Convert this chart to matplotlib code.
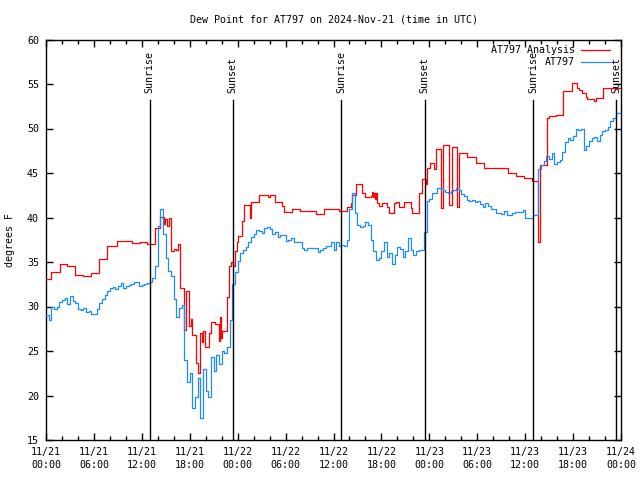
import numpy as np
import matplotlib
matplotlib.use('Agg')
import matplotlib.pyplot as plt

# ---- data (x in hours since 2024-11-21 00:00 UTC) ----
red_hours = [0, 0.66, 1.76, 2.6, 3.68, 4.6, 5.68, 6.68, 7.69, 8.84, 10.83, 11.79, 12.7,
             13.63, 14.3, 14.75, 14.95, 15.2, 15.45, 15.64, 16.0, 16.3, 16.55, 16.72,
             17.22, 17.47, 17.9, 18.1, 18.31, 18.73, 18.98, 19.32, 19.55, 19.7, 19.94,
             20.36, 20.7, 21.2, 21.6, 21.83, 21.95, 22.04, 22.66, 22.96, 23.17, 23.41,
             23.66, 23.9, 24.08, 24.59, 24.84, 25.55, 25.68, 26.68, 27.76, 28.01, 28.68,
             29.6, 29.77, 30.77, 31.82, 33.78, 34.79, 36.67, 37.72, 38.13, 38.34, 38.84,
             39.6, 39.93, 40.64, 40.85, 41.0, 41.06, 41.2, 41.3, 41.48, 41.69, 42.1,
             42.73, 42.94, 43.57, 43.78, 44.2, 44.82, 45.66, 45.87, 46.7, 47.13, 47.54,
             47.75, 48.08, 48.58, 48.8, 49.42, 49.76, 50.47, 50.8, 51.43, 51.77, 52.77,
             53.81, 54.85, 57.79, 58.83, 59.87, 60.8, 61.55, 61.8, 62.72, 62.93, 63.85,
             64.77, 65.82, 66.44, 66.78, 67.11, 67.61, 67.74, 68.66, 68.87, 69.7, 72.0]
red_values = [33.1, 33.9, 34.75, 34.55, 33.55, 33.45, 33.75, 35.35, 36.85, 37.35, 37.1, 37.25, 37.0,
              38.8, 40.05, 39.3, 39.8, 39.0, 40.0, 36.2, 36.5, 36.4, 37.0, 32.1,
              27.4, 31.7, 27.8, 28.6, 26.8, 23.6, 22.5, 27.0, 26.0, 27.3, 25.5,
              27.0, 28.3, 28.0, 26.1, 28.8, 26.5, 27.3, 31.1, 34.5, 35.0, 34.6,
              36.2, 37.3, 37.95, 39.56, 41.44, 40.0, 41.74, 42.5, 42.35, 42.5, 41.7,
              41.33, 40.6, 40.95, 40.73, 40.4, 40.95, 40.76, 41.2, 41.6, 42.56, 43.76,
              42.75, 42.26, 42.4, 42.9, 42.3, 42.8, 42.1, 42.7, 41.6, 41.3, 41.6,
              41.2, 40.5, 41.6, 41.7, 41.2, 41.7, 41.1, 40.5, 42.75, 44.36, 43.8,
              45.56, 46.1, 45.4, 47.7, 41.06, 48.2, 41.4, 47.9, 41.2, 47.26, 46.8,
              46.13, 45.56, 45.0, 44.7, 44.44, 44.14, 37.3, 45.86, 51.19, 51.37, 51.49,
              54.26, 55.12, 54.6, 54.3, 54.0, 53.5, 53.36, 53.1, 53.4, 54.56, 54.56]

blue_step = 1.0 / 3.0  # readings every 20 minutes
blue_values = [
    29.0, 28.5, 30.0, 29.7, 29.9, 30.5, 30.7, 30.9, 30.3, 31.2, 30.6, 30.4, 29.7, 29.6, 29.8,
    29.4, 29.5, 29.2, 29.2, 29.7, 30.4, 30.8, 31.3, 31.7, 32.1, 32.2, 32.0, 32.3, 32.6, 32.1,
    32.3, 32.4, 32.5, 32.7, 32.8, 32.3, 32.4,
    32.5, 32.6, 32.8, 33.2, 34.5, 39.0, 41.0, 38.2, 35.5, 34.0, 33.4, 30.8, 28.8, 29.8, 30.2,
    24.0, 21.5, 22.5, 18.6, 19.8, 22.0, 17.5, 23.0, 20.5, 19.8, 24.3, 22.8, 24.5, 23.5, 25.0,
    24.8, 25.4, 28.5, 32.5, 33.9, 35.1,
    36.0, 36.3, 36.7, 37.3, 37.8, 38.2, 38.6, 38.5, 38.3, 38.8, 38.9, 38.7, 38.2, 38.4, 37.8,
    38.0, 38.0, 37.4, 37.5, 37.7, 37.3, 37.2, 37.3, 36.6, 36.4, 36.6, 36.6, 36.6, 36.6, 36.1,
    36.4, 36.6, 36.8, 36.8, 37.2, 36.3, 37.2, 36.8, 36.9,
    36.8, 37.5, 41.0, 42.8, 40.5, 39.2, 38.9, 39.0, 39.5, 39.2, 37.5, 36.2, 35.2, 35.4, 36.2,
    37.3, 35.6, 36.0, 34.8, 35.8, 36.7, 36.5, 35.6, 36.2, 37.7, 36.3, 35.8, 36.2, 36.4, 36.3,
    38.4, 41.8, 42.1,
    42.7, 42.8, 43.3, 43.3, 43.1, 42.9, 42.8, 43.0, 43.1, 43.3, 43.1, 42.6, 42.4, 42.0, 41.9,
    42.0, 41.7, 41.8, 41.5, 41.2, 41.6, 41.3, 40.9, 41.0, 40.5, 40.5, 40.4, 40.7, 40.3, 40.3,
    40.5, 40.6, 40.6, 40.6, 40.8, 40.0, 40.0, 40.0, 40.3,
    40.3, 45.5, 45.9, 46.4, 46.9, 46.6, 47.3, 46.0, 46.2, 46.5, 47.4, 48.5, 48.9, 48.7, 49.2,
    50.0, 49.8, 49.9, 47.6, 48.0, 48.6, 48.9, 49.0, 48.6, 49.3, 49.7, 49.8, 50.2, 50.8, 51.2,
    51.7, 51.75, 51.8]

sun_hours = [12.96, 23.36, 36.98, 47.40, 61.02, 71.42]
sun_labels = ['Sunrise', 'Sunset', 'Sunrise', 'Sunset', 'Sunrise', 'Sunset']

xtick_hours = [0, 6, 12, 18, 24, 30, 36, 42, 48, 54, 60, 66, 72]
xtick_labels = ['11/21\n00:00', '11/21\n06:00', '11/21\n12:00', '11/21\n18:00',
                '11/22\n00:00', '11/22\n06:00', '11/22\n12:00', '11/22\n18:00',
                '11/23\n00:00', '11/23\n06:00', '11/23\n12:00', '11/23\n18:00',
                '11/24\n00:00']
yticks = [15, 20, 25, 30, 35, 40, 45, 50, 55, 60]

# ---- drawing ----
FONT = 'DejaVu Sans Mono'
FS = 7.2
plt.rcParams['font.family'] = FONT

fig = plt.figure(figsize=(6.4, 4.8), dpi=100)
L, R, T, B = 46, 621, 39.5, 440
ax = fig.add_axes([L / 640, 1 - B / 480, (R - L) / 640, (B - T) / 480])

blue_hours = np.arange(len(blue_values)) * blue_step

ax.step(red_hours, red_values, where='post', color='#ff0000', lw=0.9, zorder=3)
ax.step(blue_hours, blue_values, where='post', color='#1a8cff', lw=0.9, zorder=4)

line_top = 53.25
for h, lab in zip(sun_hours, sun_labels):
    ax.plot([h, h], [15, line_top], color='black', lw=1.0, zorder=5)
    ax.text(h, 54.0, lab, rotation=90, ha='center', va='bottom',
            fontsize=FS, family=FONT, zorder=6)

ax.set_xlim(0, 72)
ax.set_ylim(15, 60)
ax.set_xticks(xtick_hours)
ax.set_xticklabels(xtick_labels, fontsize=FS, linespacing=1.35)
ax.set_xticks(np.arange(0, 73, 2), minor=True)
ax.set_yticks(yticks)
ax.set_yticklabels([str(v) for v in yticks], fontsize=FS)
ax.tick_params(axis='x', which='major', direction='in', length=5, width=1,
               top=True, bottom=True, pad=5)
ax.tick_params(axis='x', which='minor', direction='in', length=3, width=1,
               top=True, bottom=True)
ax.tick_params(axis='y', which='major', direction='in', length=5, width=1,
               left=True, right=True, pad=5)
for s in ax.spines.values():
    s.set_linewidth(1.0)

# legend (gnuplot style: right-justified text followed by sample)
leg_rows = [('AT797 Analysis', '#ff0000', 0.975), ('AT797', '#1a8cff', 0.945)]
for txt, col, yy in leg_rows:
    ax.text(0.92, yy, txt, transform=ax.transAxes, ha='right', va='center',
            fontsize=FS, family=FONT, zorder=7)
    ax.plot([0.931, 0.981], [yy, yy], transform=ax.transAxes, color=col, lw=0.9,
            zorder=7, clip_on=False)

fig.text(333.5 / 640, 1 - 19 / 480, 'Dew Point for AT797 on 2024-Nov-21 (time in UTC)',
         ha='center', va='center', fontsize=FS, family=FONT)
fig.text(10 / 640, 0.5, 'degrees F', rotation=90, ha='center', va='center',
         fontsize=FS, family=FONT)

fig.savefig('out.png', dpi=100)
